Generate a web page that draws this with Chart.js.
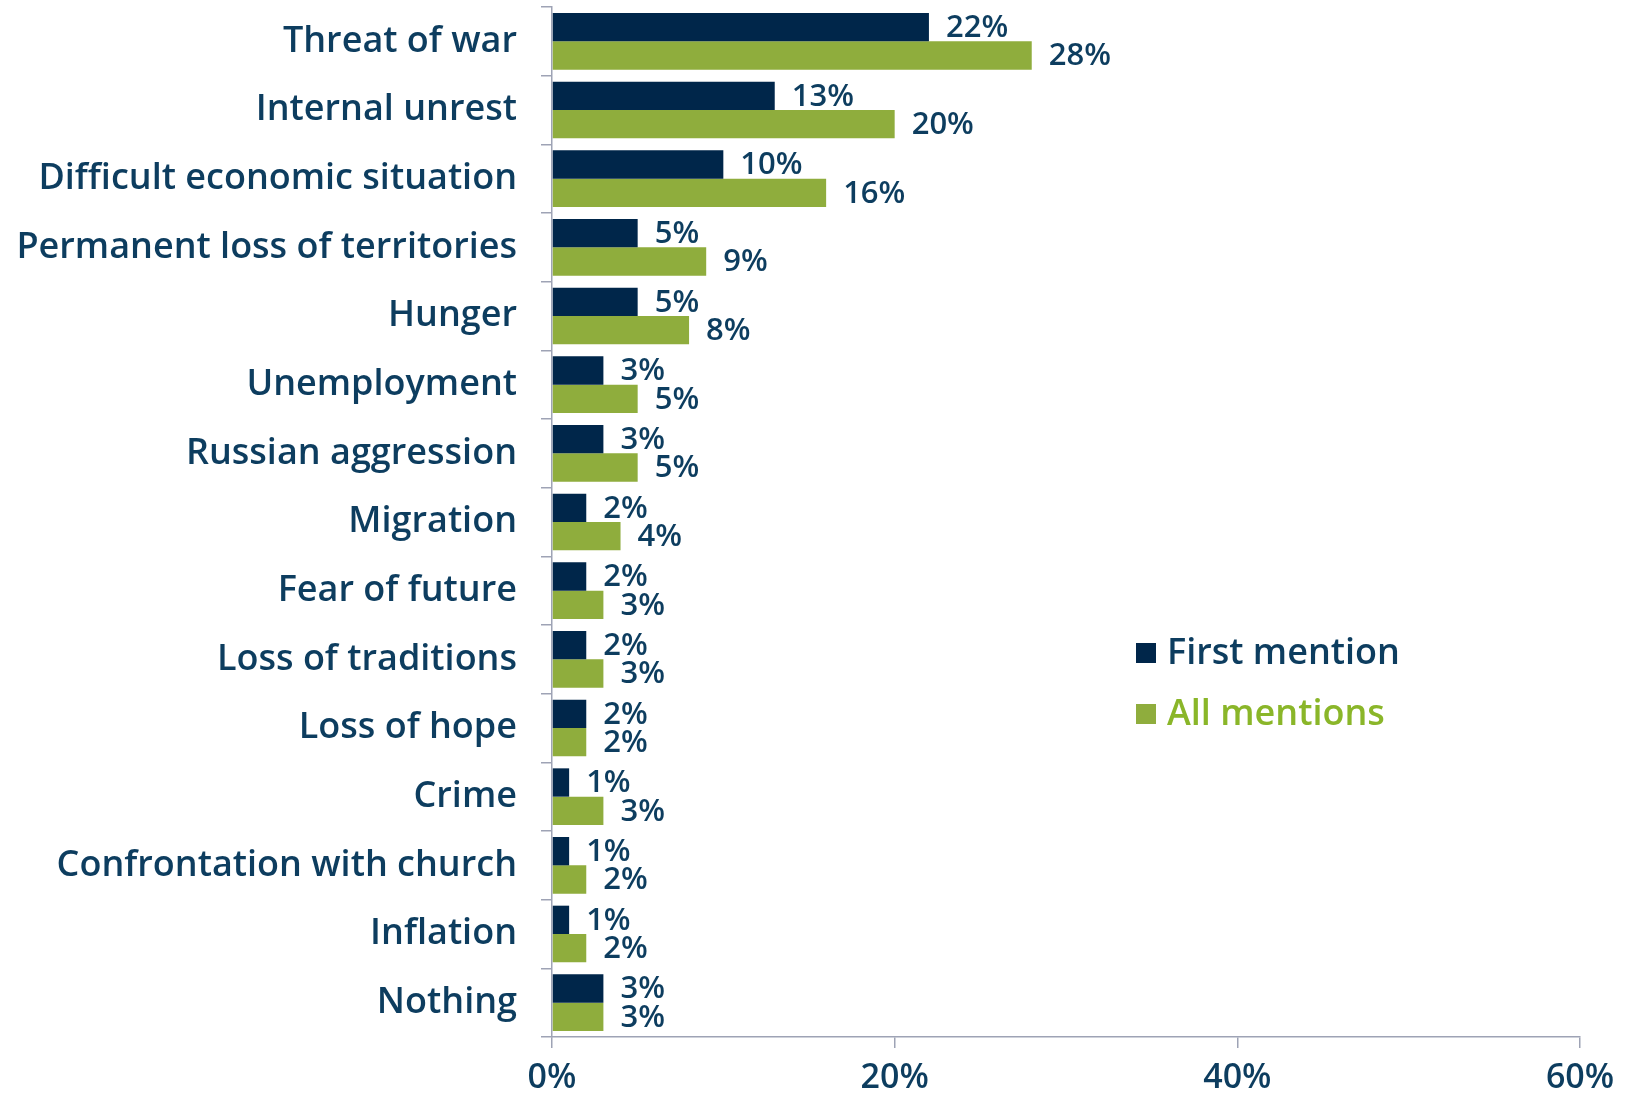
<!DOCTYPE html>
<html>
<head>
<meta charset="utf-8">
<title>Biggest fears</title>
<script src="https://cdn.jsdelivr.net/npm/chart.js@4.4.1/dist/chart.umd.min.js"></script>
<style>
  html, body { margin: 0; padding: 0; background: #fff; }
  #wrap { width: 1632px; height: 1098px; }
</style>
</head>
<body>
<div id="wrap"><canvas id="fearsChart" width="1632" height="1098"></canvas></div>
<script>
// Data
const categories = [
  "Threat of war", "Internal unrest", "Difficult economic situation",
  "Permanent loss of territories", "Hunger", "Unemployment", "Russian aggression",
  "Migration", "Fear of future", "Loss of traditions", "Loss of hope", "Crime",
  "Confrontation with church", "Inflation", "Nothing"
];
const firstMention = [22, 13, 10, 5, 5, 3, 3, 2, 2, 2, 2, 1, 1, 1, 3];
const allMentions  = [28, 20, 16, 9, 8, 5, 5, 4, 3, 3, 2, 3, 2, 2, 3];
const seriesNames = ["First mention", "All mentions"];
const xTicks = [0, 20, 40, 60];

const NAVY = "#00264a";
const GREEN = "#8fad3d";
const TEXT = "#0d3d5f";
const AXIS = "#9ea3b5";
const FONT = "'Open Sans', 'Noto Sans', sans-serif";

// value labels at the end of each bar
const barLabels = {
  id: "barLabels",
  afterDatasetsDraw(chart) {
    const ctx = chart.ctx;
    ctx.save();
    ctx.font = `600 31px ${FONT}`;
    ctx.fillStyle = TEXT;
    ctx.textAlign = "left";
    ctx.textBaseline = "middle";
    chart.data.datasets.forEach((ds, i) => {
      chart.getDatasetMeta(i).data.forEach((bar, j) => {
        ctx.fillText(ds.data[j] + "%", bar.x + 17, bar.y + 1);
      });
    });
    ctx.restore();
  }
};

// legend drawn inside the plot, right side
const sideLegend = {
  id: "sideLegend",
  afterDraw(chart) {
    const ctx = chart.ctx;
    const textColors = [TEXT, "#8ab629"];
    ctx.save();
    ctx.font = `600 36px ${FONT}`;
    ctx.textBaseline = "middle";
    chart.data.datasets.forEach((ds, i) => {
      const y = 653 + i * 61;
      ctx.fillStyle = ds.backgroundColor;
      ctx.fillRect(1136, y - 10, 20, 20);
      ctx.fillStyle = textColors[i];
      ctx.fillText(ds.label, 1167, y + 1);
    });
    ctx.restore();
  }
};

new Chart(document.getElementById("fearsChart"), {
  type: "bar",
  data: {
    labels: categories,
    datasets: [
      { label: seriesNames[0], data: firstMention, backgroundColor: NAVY },
      { label: seriesNames[1], data: allMentions, backgroundColor: GREEN }
    ]
  },
  options: {
    indexAxis: "y",
    responsive: false,
    animation: false,
    devicePixelRatio: 1,
    layout: { padding: { top: 7, right: 52, left: 0, bottom: 0 } },
    datasets: { bar: { categoryPercentage: 0.825, barPercentage: 1.0 } },
    plugins: {
      legend: { display: false },
      tooltip: { enabled: false }
    },
    scales: {
      x: {
        min: 0, max: 60,
        afterBuildTicks: (s) => { s.ticks = xTicks.map(v => ({ value: v })); },
        ticks: {
          callback: v => v + "%",
          color: TEXT,
          font: { family: FONT, size: 34, weight: "600" },
          padding: 10,
          maxRotation: 0
        },
        grid: { drawOnChartArea: false, drawTicks: true, tickLength: 11, color: AXIS, lineWidth: 1.5 },
        border: { color: AXIS, width: 1.5 },
        afterFit: (s) => { s.height = 61; s.paddingLeft = 0; s.paddingRight = 0; }
      },
      y: {
        ticks: {
          color: TEXT,
          font: { family: FONT, size: 36, weight: "600", lineHeight: 1 },
          padding: 24,
          autoSkip: false
        },
        grid: { offset: true, drawOnChartArea: false, drawTicks: true, tickLength: 11, color: AXIS, lineWidth: 1.5 },
        border: { color: AXIS, width: 1.5 },
        afterFit: (s) => { s.width = 552; s.paddingTop = 0; s.paddingBottom = 0; }
      }
    }
  },
  plugins: [barLabels, sideLegend]
});
</script>
</body>
</html>
